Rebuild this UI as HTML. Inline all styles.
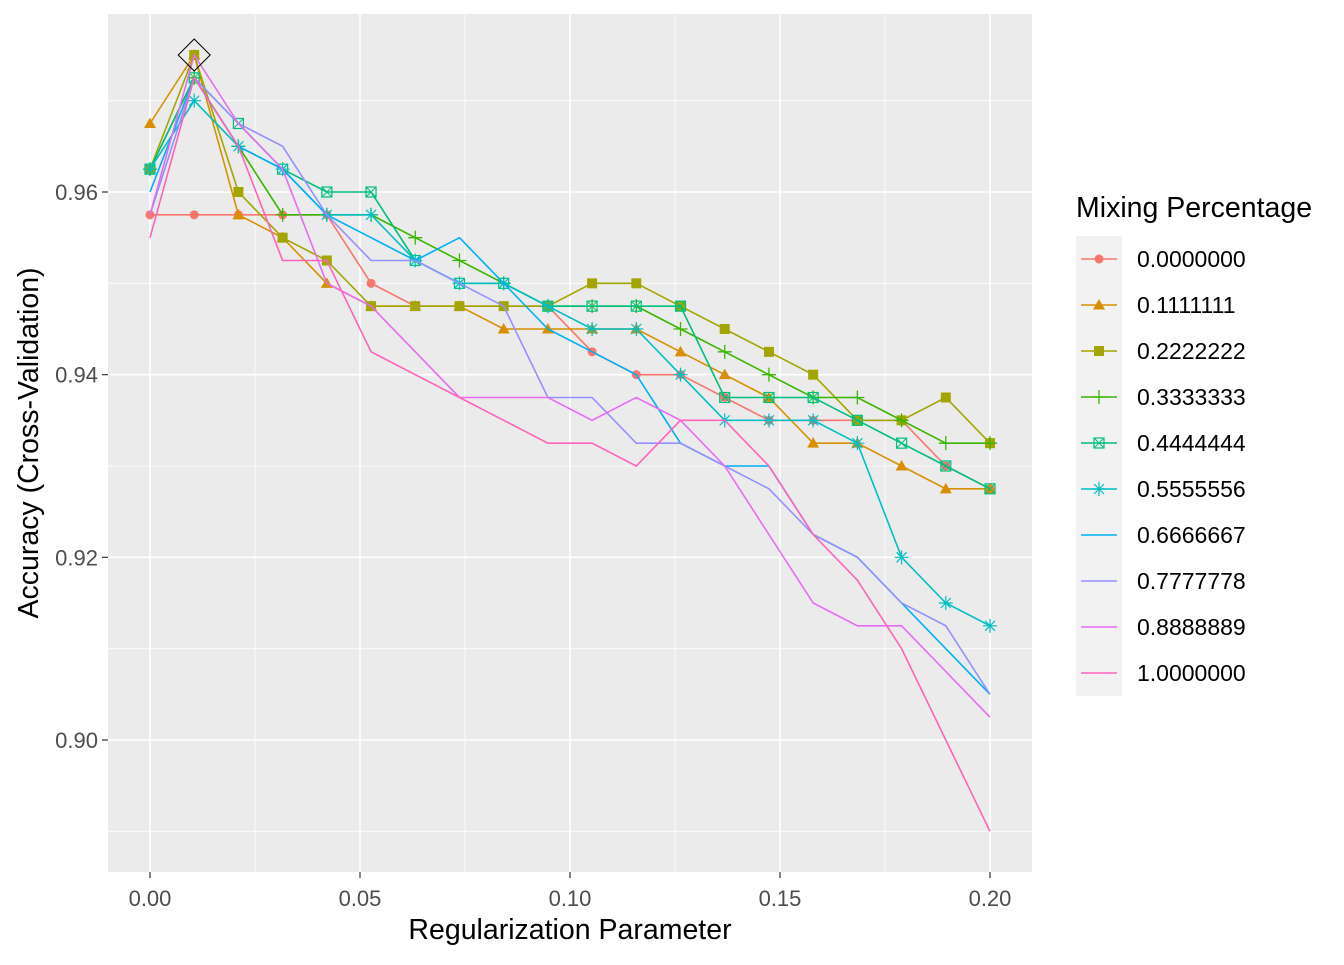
<!DOCTYPE html>
<html><head><meta charset="utf-8"><style>
body{margin:0;background:#fff;font-family:"Liberation Sans",Arial,sans-serif;}
</style></head><body>
<svg id="chart" width="1344" height="960" xmlns="http://www.w3.org/2000/svg" font-family="Liberation Sans, Arial, sans-serif">
<rect x="108" y="14" width="924" height="858" fill="#EBEBEB"/>
<g id="grid"></g><g id="series"></g><g id="axes"></g><g id="legend"></g>
<text x="570" y="939" font-size="28.5" text-anchor="middle" fill="#000">Regularization Parameter</text>
<text transform="translate(38,443) rotate(-90)" font-size="28.5" text-anchor="middle" fill="#000">Accuracy (Cross-Validation)</text>
<text x="1076" y="217" font-size="28.5" fill="#000">Mixing Percentage</text>
</svg>
<script>
const seriesNames=["0.0000000","0.1111111","0.2222222","0.3333333","0.4444444","0.5555556","0.6666667","0.7777778","0.8888889","1.0000000"];
const colors=["#F8766D","#D89000","#A3A500","#39B600","#00BF7D","#00BFC4","#00B0F6","#9590FF","#E76BF3","#FF62BC"];
const shapes=["circle","triangle","square","plus","boxx","star",null,null,null,null];
const xTicks=[0,0.05,0.10,0.15,0.20];
const xTickLabels=["0.00","0.05","0.10","0.15","0.20"];
const yTicks=[0.90,0.92,0.94,0.96];
const yTickLabels=["0.90","0.92","0.94","0.96"];
const s0=[0.9575,0.9575,0.9575,0.9575,0.9575,0.95,0.9475,0.9475,0.9475,0.9475,0.9425,0.94,0.94,0.9375,0.935,0.935,0.935,0.935,0.93,0.9275];
const s1=[0.9675,0.975,0.9575,0.955,0.95,0.9475,0.9475,0.9475,0.945,0.945,0.945,0.945,0.9425,0.94,0.9375,0.9325,0.9325,0.93,0.9275,0.9275];
const s2=[0.9625,0.975,0.96,0.955,0.9525,0.9475,0.9475,0.9475,0.9475,0.9475,0.95,0.95,0.9475,0.945,0.9425,0.94,0.935,0.935,0.9375,0.9325];
const s3=[0.9625,0.9725,0.965,0.9575,0.9575,0.9575,0.955,0.9525,0.95,0.9475,0.9475,0.9475,0.945,0.9425,0.94,0.9375,0.9375,0.935,0.9325,0.9325];
const s4=[0.9625,0.9725,0.9675,0.9625,0.96,0.96,0.9525,0.95,0.95,0.9475,0.9475,0.9475,0.9475,0.9375,0.9375,0.9375,0.935,0.9325,0.93,0.9275];
const s5=[0.9625,0.97,0.965,0.9625,0.9575,0.9575,0.9525,0.95,0.95,0.9475,0.945,0.945,0.94,0.935,0.935,0.935,0.9325,0.92,0.915,0.9125];
const s6=[0.96,0.9725,0.965,0.9625,0.9575,0.955,0.9525,0.955,0.95,0.945,0.9425,0.94,0.9325,0.93,0.93,0.9225,0.92,0.915,0.91,0.905];
const s7=[0.9575,0.9725,0.9675,0.965,0.9575,0.9525,0.9525,0.95,0.9475,0.9375,0.9375,0.9325,0.9325,0.93,0.9275,0.9225,0.92,0.915,0.9125,0.905];
const s8=[0.9575,0.975,0.9675,0.9625,0.95,0.9475,0.9425,0.9375,0.9375,0.9375,0.935,0.9375,0.935,0.93,0.9225,0.915,0.9125,0.9125,0.9075,0.9025];
const s9=[0.955,0.9725,0.965,0.9525,0.9525,0.9425,0.94,0.9375,0.935,0.9325,0.9325,0.93,0.935,0.935,0.93,0.9225,0.9175,0.91,0.9,0.89];
const allSeries=[s0,s1,s2,s3,s4,s5,s6,s7,s8,s9];
const bestX=0.0105263, bestY=0.975;
const NS="http://www.w3.org/2000/svg";
const X=v=>150+v*4200;
const Y=v=>192-(v-0.96)*9133.3;
function mk(tag,attrs,parent){const e=document.createElementNS(NS,tag);for(const k in attrs)e.setAttribute(k,attrs[k]);parent.appendChild(e);return e;}
const grid=document.getElementById('grid'),axes=document.getElementById('axes'),ser=document.getElementById('series'),leg=document.getElementById('legend');
for(let i=0;i<xTicks.length-1;i++){const m=(xTicks[i]+xTicks[i+1])/2;const l=mk('line',{x1:X(m),x2:X(m),y1:14,y2:872,stroke:'#fff','stroke-width':0.8},grid);

}
const yMinor=[0.89,0.91,0.93,0.95,0.97];
yMinor.forEach(v=>{const l=mk('line',{x1:108,x2:1032,y1:Y(v),y2:Y(v),stroke:'#fff','stroke-width':0.8},grid);

});
xTicks.forEach((v,i)=>{const l=mk('line',{x1:X(v),x2:X(v),y1:14,y2:872,stroke:'#fff','stroke-width':1.6},grid);


const t=mk('line',{x1:X(v),x2:X(v),y1:872,y2:878,stroke:'#333','stroke-width':1.2},axes);


const tx=mk('text',{x:X(v),y:906,'font-size':22,'text-anchor':'middle',fill:'#4D4D4D'},axes);tx.textContent=xTickLabels[i];

});
yTicks.forEach((v,i)=>{const l=mk('line',{x1:108,x2:1032,y1:Y(v),y2:Y(v),stroke:'#fff','stroke-width':1.6},grid);


const t=mk('line',{x1:102,x2:108,y1:Y(v),y2:Y(v),stroke:'#333','stroke-width':1.2},axes);


const tx=mk('text',{x:98,y:Y(v)+8,'font-size':22,'text-anchor':'end',fill:'#4D4D4D'},axes);tx.textContent=yTickLabels[i];

});
function marker(shape,cx,cy,c,parent){
 const g=mk('g',{},parent);
 if(shape==='circle')mk('circle',{cx,cy,r:4.5,fill:c},g);
 else if(shape==='triangle')mk('polygon',{points:`${cx},${cy-6} ${cx-6},${cy+4.5} ${cx+6},${cy+4.5}`,fill:c},g);
 else if(shape==='square')mk('rect',{x:cx-5,y:cy-5,width:10,height:10,fill:c},g);
 else if(shape==='plus'){mk('path',{d:`M${cx-7},${cy}H${cx+7}M${cx},${cy-7}V${cy+7}`,stroke:c,'stroke-width':1.3,fill:'none'},g);}
 else if(shape==='boxx'){mk('rect',{x:cx-5,y:cy-5,width:10,height:10,fill:'none',stroke:c,'stroke-width':1.2},g);mk('path',{d:`M${cx-5},${cy-5}L${cx+5},${cy+5}M${cx+5},${cy-5}L${cx-5},${cy+5}`,stroke:c,'stroke-width':1},g);}
 else if(shape==='star'){mk('path',{d:`M${cx-7},${cy}H${cx+7}M${cx},${cy-7}V${cy+7}M${cx-5},${cy-5}L${cx+5},${cy+5}M${cx+5},${cy-5}L${cx-5},${cy+5}`,stroke:c,'stroke-width':1.2,fill:'none'},g);}
 return g;}
const step=0.2/19;
allSeries.forEach((s,k)=>{
 const g=mk('g',{},ser);
 
 
 const pts=s.map((v,i)=>X(i*step).toFixed(1)+','+Y(v).toFixed(1)).join(' ');
 const pl=mk('polyline',{points:pts,fill:'none',stroke:colors[k],'stroke-width':1.6},g);
 
 
 if(shapes[k])s.forEach((v,i)=>{const m=marker(shapes[k],X(i*step),Y(v),colors[k],g);
 
 });
});
const d=mk('polygon',{points:`${X(bestX)},${Y(bestY)-16} ${X(bestX)+16},${Y(bestY)} ${X(bestX)},${Y(bestY)+16} ${X(bestX)-16},${Y(bestY)}`,fill:'none',stroke:'#000','stroke-width':1},ser);


const kb=mk('rect',{x:1076,y:236,width:46,height:460,fill:'#F2F2F2'},leg);


seriesNames.forEach((n,k)=>{const cy=259+k*46;
 const g=mk('g',{},leg);
 
 
 mk('line',{x1:1081,x2:1117,y1:cy,y2:cy,stroke:colors[k],'stroke-width':1.6},g);
 if(shapes[k])marker(shapes[k],1099,cy,colors[k],g);
 const t=mk('text',{x:1137,y:cy+8,'font-size':23,fill:'#000'},g);t.textContent=n;});
</script>
</body></html>
